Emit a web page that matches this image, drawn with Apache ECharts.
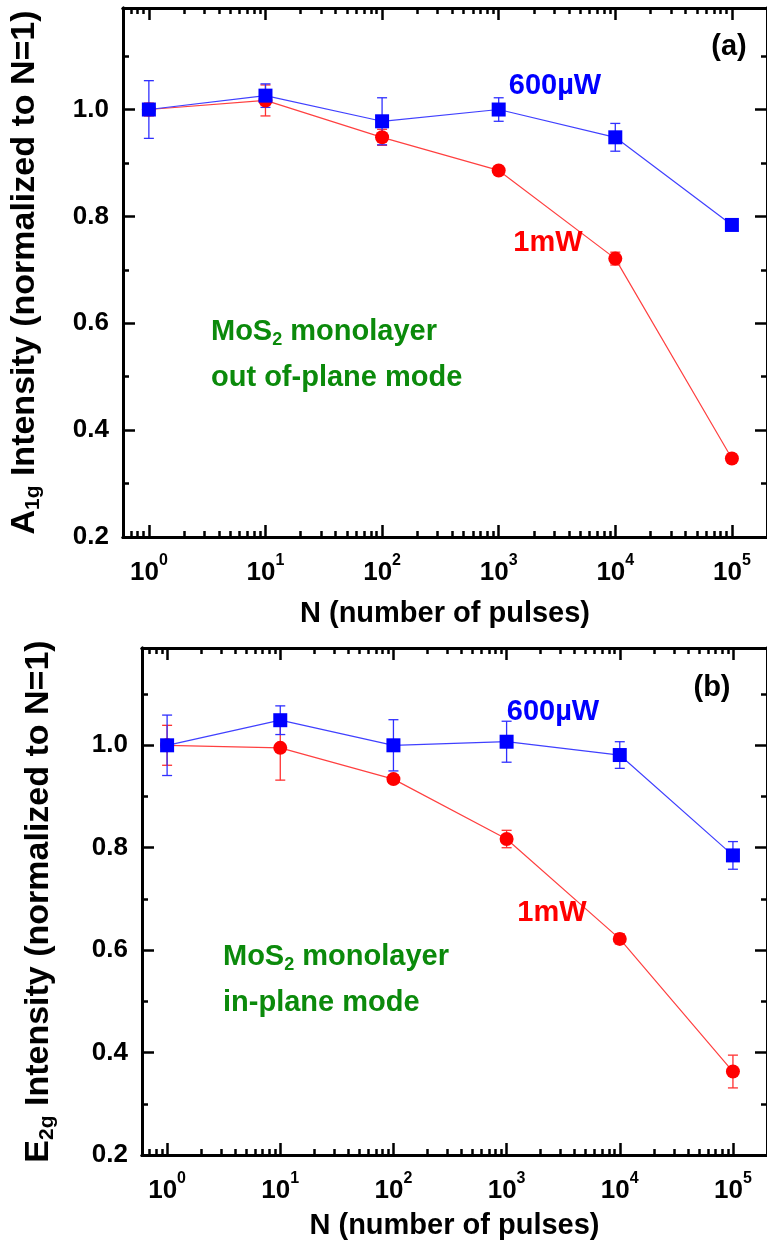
<!DOCTYPE html>
<html><head><meta charset="utf-8">
<script src="https://cdn.jsdelivr.net/npm/echarts@6/dist/echarts.min.js"></script>
<style>html,body{margin:0;padding:0;background:#fff}#c{width:767px;height:1241px}</style>
</head><body><div id="c"></div>
<script>
// ---- data ----
const pulses = [1, 10, 100, 1000, 10000, 100000];
// panel (a) A1g
const a600 = [1.000, 1.026, 0.978, 1.000, 0.948, 0.784];
const a600Err = [0.054, 0.022, 0.044, 0.022, 0.026, 0.006];
const a1mW = [1.000, 1.017, 0.948, 0.886, 0.721, 0.347];
const a1mWErr = [0.012, 0.029, 0.015, 0.006, 0.012, 0.008];
// panel (b) E2g
const b600 = [1.000, 1.049, 1.000, 1.007, 0.981, 0.785];
const b600Err = [0.059, 0.028, 0.050, 0.040, 0.026, 0.027];
const b1mW = [1.000, 0.995, 0.934, 0.817, 0.622, 0.363];
const b1mWErr = [0.039, 0.063, 0.008, 0.017, 0.010, 0.032];
// ticks
const xMajorTicks = [1, 10, 100, 1000, 10000, 100000];
const xMinorTicks = [0.7, 0.8, 0.9,
  2, 3, 4, 5, 6, 7, 8, 9,
  20, 30, 40, 50, 60, 70, 80, 90,
  200, 300, 400, 500, 600, 700, 800, 900,
  2000, 3000, 4000, 5000, 6000, 7000, 8000, 9000,
  20000, 30000, 40000, 50000, 60000, 70000, 80000, 90000];
const yMajorTicks = [0.2, 0.4, 0.6, 0.8, 1.0];
const yMinorTicks = [0.3, 0.5, 0.7, 0.9, 1.1];
const seriesNames = ['600\u00b5W', '1mW'];
const panelLabels = ['(a)', '(b)'];
const xTitle = 'N (number of pulses)';
const yTitles = [['A', '1g'], ['E', '2g']];
const sampleLines = [['MoS', '2', ' monolayer'], ['out of-plane mode'], ['in-plane mode']];

// ---- style ----
const FONT = '"Liberation Sans", Arial, Helvetica, sans-serif';
const BLUE = '#0000ff', RED = '#ff0000', GREEN = '#0b8a0b';
const grids = [
  {left: 122, top: 8, width: 653, height: 529},
  {left: 142, top: 648, width: 630, height: 509}
];
const X_MIN = 0.6, X_MAX = 2e5, Y_MIN = 0.2, Y_MAX = 1.19;

function xAxes(g) {
  const base = {type: 'log', logBase: 10, min: X_MIN, max: X_MAX, gridIndex: g,
    splitLine: {show: false}, axisPointer: {show: false}};
  const line = {show: true, onZero: false, lineStyle: {color: '#000', width: 3}};
  const mk = (pos, major, labels) => Object.assign({}, base, {
    position: pos,
    axisLine: line,
    axisTick: {show: true, inside: true, length: major ? 12 : 6,
      lineStyle: {color: '#000', width: 2.5}, customValues: major ? xMajorTicks : xMinorTicks},
    axisLabel: labels ? {show: true, customValues: xMajorTicks, margin: 16,
      formatter: v => '{b|10}{s|' + Math.round(Math.log10(v)) + '}',
      rich: {b: {fontFamily: FONT, fontWeight: 'bold', fontSize: 26, color: '#000', lineHeight: 40},
             s: {fontFamily: FONT, fontWeight: 'bold', fontSize: 16, color: '#000', lineHeight: 16, verticalAlign: 'top'}}}
      : {show: false},
    name: labels ? xTitle : '',
    nameLocation: 'middle', nameGap: g === 0 ? 62 : 56,
    nameTextStyle: {fontFamily: FONT, fontWeight: 'bold', fontSize: 29, color: '#000'}
  });
  return [mk('bottom', true, true), mk('bottom', false, false), mk('top', true, false), mk('top', false, false)];
}
function yAxes(g) {
  const t = yTitles[g];
  const line = {show: true, onZero: false, lineStyle: {color: '#000', width: 3}};
  const mk = (pos, major, labels) => ({
    type: 'value', min: Y_MIN, max: Y_MAX, gridIndex: g, position: pos,
    splitLine: {show: false},
    axisLine: line,
    axisTick: {show: true, inside: true, length: major ? 12 : 6,
      lineStyle: {color: '#000', width: 2.5}, customValues: major ? yMajorTicks : yMinorTicks},
    axisLabel: labels ? {show: true, customValues: yMajorTicks, margin: 14,
      formatter: v => v.toFixed(1), fontFamily: FONT, fontWeight: 'bold', fontSize: 26, color: '#000'}
      : {show: false},
    name: labels ? '{m|' + t[0] + '}{s|' + t[1] + '}{m| Intensity (normalized to N=1)}' : '',
    nameLocation: 'middle', nameRotate: 90, nameGap: g === 0 ? 79 : 84,
    nameTextStyle: {rich: {
      m: {fontFamily: FONT, fontWeight: 'bold', fontSize: 34, color: '#000', lineHeight: 38},
      s: {fontFamily: FONT, fontWeight: 'bold', fontSize: 21, color: '#000', lineHeight: 21, verticalAlign: 'bottom'}
    }}
  });
  return [mk('left', true, true), mk('left', false, false), mk('right', true, false), mk('right', false, false)];
}

function errData(xs, ys, es) { return xs.map((x, i) => [x, ys[i] - es[i], ys[i] + es[i]]); }
function errSeries(g, xs, ys, es, color) {
  return {
    type: 'custom', xAxisIndex: g * 4, yAxisIndex: g * 4, z: 2,
    data: errData(xs, ys, es), encode: {x: 0, y: [1, 2]},
    renderItem: (params, api) => {
      const x = api.value(0);
      const lo = api.coord([x, api.value(1)]);
      const hi = api.coord([x, api.value(2)]);
      const w = 5;
      const st = {stroke: color, lineWidth: 1.3};
      return {type: 'group', children: [
        {type: 'line', shape: {x1: lo[0], y1: lo[1], x2: hi[0], y2: hi[1]}, style: st},
        {type: 'line', shape: {x1: lo[0] - w, y1: lo[1], x2: lo[0] + w, y2: lo[1]}, style: st},
        {type: 'line', shape: {x1: hi[0] - w, y1: hi[1], x2: hi[0] + w, y2: hi[1]}, style: st}
      ]};
    }
  };
}
function lineSeries(g, name, xs, ys, symbol, color, lineColor) {
  return {
    type: 'line', name, xAxisIndex: g * 4, yAxisIndex: g * 4, z: 3,
    data: xs.map((x, i) => [x, ys[i]]),
    symbol, symbolSize: 14, showAllSymbol: true,
    itemStyle: {color}, lineStyle: {color: lineColor, width: 1.2},
    emphasis: {disabled: true}
  };
}

function txt(x, y, text, color, size, align, rich) {
  return {type: 'text', x, y, z: 10, style: {
    text, fill: color, font: 'bold ' + size + 'px ' + FONT,
    align: align || 'left', verticalAlign: 'middle', rich
  }};
}
const greenRich = {
  g: {fontFamily: FONT, fontWeight: 'bold', fontSize: 29, fill: GREEN, color: GREEN, lineHeight: 34},
  s: {fontFamily: FONT, fontWeight: 'bold', fontSize: 18, fill: GREEN, color: GREEN, lineHeight: 18, verticalAlign: 'bottom'}
};
const mosText = '{g|' + sampleLines[0][0] + '}{s|' + sampleLines[0][1] + '}{g|' + sampleLines[0][2] + '}';

const option = {
  animation: false,
  backgroundColor: '#fff',
  grid: grids.map(g => Object.assign({containLabel: false}, g)),
  xAxis: [...xAxes(0), ...xAxes(1)],
  yAxis: [...yAxes(0), ...yAxes(1)],
  series: [
    errSeries(0, pulses, a1mW, a1mWErr, '#ff3030'),
    lineSeries(0, seriesNames[1], pulses, a1mW, 'circle', RED, '#ff4040'),
    errSeries(0, pulses, a600, a600Err, '#3030ff'),
    lineSeries(0, seriesNames[0], pulses, a600, 'rect', BLUE, '#4040ff'),
    errSeries(1, pulses, b1mW, b1mWErr, '#ff3030'),
    lineSeries(1, seriesNames[1], pulses, b1mW, 'circle', RED, '#ff4040'),
    errSeries(1, pulses, b600, b600Err, '#3030ff'),
    lineSeries(1, seriesNames[0], pulses, b600, 'rect', BLUE, '#4040ff')
  ],
  graphic: [
    txt(729, 47, panelLabels[0], '#000', 29, 'center'),
    txt(555, 86, seriesNames[0], BLUE, 29, 'center'),
    txt(548, 243, seriesNames[1], RED, 29, 'center'),
    txt(211, 332, mosText, GREEN, 29, 'left', greenRich),
    txt(211, 378, sampleLines[1][0], GREEN, 29, 'left'),
    txt(712, 688, panelLabels[1], '#000', 29, 'center'),
    txt(553, 712, seriesNames[0], BLUE, 29, 'center'),
    txt(552, 913, seriesNames[1], RED, 29, 'center'),
    txt(223, 957, mosText, GREEN, 29, 'left', greenRich),
    txt(223, 1003, sampleLines[2][0], GREEN, 29, 'left')
  ]
};
const chart = echarts.init(document.getElementById('c'), null, {renderer: 'canvas'});
chart.setOption(option);
</script>
</body></html>
